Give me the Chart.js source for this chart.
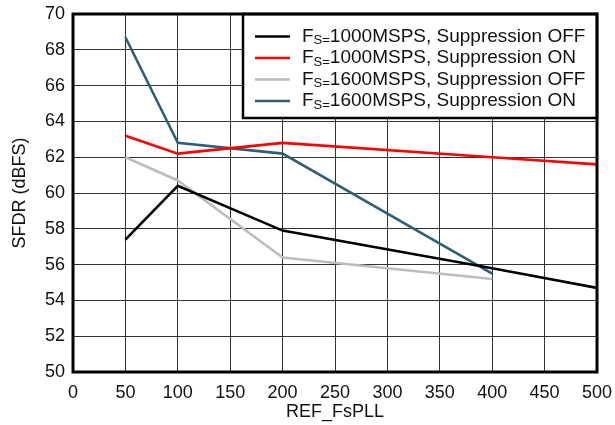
<!DOCTYPE html>
<html>
<head>
<meta charset="utf-8">
<script src="https://cdn.jsdelivr.net/npm/chart.js@4/dist/chart.umd.min.js"></script>
<style>
  html, body { margin: 0; padding: 0; background: #fff; }
  #wrap { position: relative; width: 615px; height: 425px; }
</style>
</head>
<body>
<div id="wrap"><canvas id="chart" width="615" height="425"></canvas></div>
<script>
(function() {

  // x positions (REF_FsPLL) and SFDR values
  var refPll = [50, 100, 200, 400, 500];
  var refPll1600 = [50, 100, 200, 400];

  var off1000 = [57.4, 60.4, 57.9, 55.8, 54.7];
  var on1000 = [63.2, 62.2, 62.8, 62.0, 61.6];
  var off1600 = [62.0, 60.7, 56.4, 55.2];
  var on1600 = [68.7, 62.8, 62.2, 55.5];

  var seriesNames = ['1000MSPS, Suppression OFF', '1000MSPS, Suppression ON',
                     '1600MSPS, Suppression OFF', '1600MSPS, Suppression ON'];
  var seriesColours = ['#000000', '#ff0000', '#bdbdbd', '#2f5f78'];

  var xTicks = [0, 50, 100, 150, 200, 250, 300, 350, 400, 450, 500];
  var yTicks = [50, 52, 54, 56, 58, 60, 62, 64, 66, 68, 70];

  var fontFamily = '"Liberation Sans", Arial, Helvetica, sans-serif';

  function points(xs, ys) {
    return xs.map(function(x, i) { return {x: x, y: ys[i]}; });
  }

  var seriesData = [
    points(refPll, off1000),
    points(refPll, on1000),
    points(refPll1600, off1600),
    points(refPll1600, on1600)
  ];

  // thick frame round the plot and the boxed legend in the top right corner
  var framePlugin = {
    id: 'frame',
    afterDatasetsDraw: function(chart) {
      var ctx = chart.ctx;
      var a = chart.chartArea;
      ctx.save();

      var boxLeft = 243, boxTop = a.top, boxRight = a.right, boxBottom = 118;
      ctx.fillStyle = '#fff';
      ctx.fillRect(boxLeft, boxTop, boxRight - boxLeft, boxBottom - boxTop);
      ctx.lineWidth = 2.5;
      ctx.strokeStyle = '#000';
      ctx.strokeRect(boxLeft, boxTop, boxRight - boxLeft, boxBottom - boxTop);

      var rowY = [36.5, 58, 79.5, 101];
      ctx.textBaseline = 'middle';
      seriesNames.forEach(function(name, i) {
        var y = rowY[i];
        ctx.strokeStyle = seriesColours[i];
        ctx.lineWidth = 2.5;
        ctx.beginPath();
        ctx.moveTo(255, y);
        ctx.lineTo(290, y);
        ctx.stroke();

        ctx.fillStyle = '#111';
        ctx.font = '19px ' + fontFamily;
        ctx.textAlign = 'left';
        var x = 302;
        ctx.fillText('F', x, y);
        x += ctx.measureText('F').width;
        ctx.font = '13px ' + fontFamily;
        ctx.fillText('S=', x, y + 4);
        x += ctx.measureText('S=').width;
        ctx.font = '19px ' + fontFamily;
        ctx.fillText(name, x, y);
      });

      ctx.lineWidth = 3;
      ctx.strokeStyle = '#000';
      ctx.strokeRect(a.left, a.top, a.right - a.left, a.bottom - a.top);
      ctx.restore();
    }
  };

  var datasets = seriesNames.map(function(name, i) {
    return {
      label: 'FS=' + name,
      data: seriesData[i],
      borderColor: seriesColours[i],
      backgroundColor: seriesColours[i],
      borderWidth: 2.6,
      pointRadius: 0,
      tension: 0
    };
  });

  new Chart(document.getElementById('chart'), {
    type: 'line',
    data: {datasets: datasets},
    options: {
      responsive: false,
      animation: false,
      layout: {padding: {top: 14, right: 18, left: 0, bottom: 0}},
      plugins: {
        legend: {display: false},
        tooltip: {enabled: false}
      },
      scales: {
        x: {
          type: 'linear',
          min: 0,
          max: 500,
          afterBuildTicks: function(scale) {
            scale.ticks = xTicks.map(function(v) { return {value: v}; });
          },
          afterFit: function(scale) {
            scale.height = 53;
            scale.paddingLeft = 0;
            scale.paddingRight = 0;
          },
          grid: {color: '#333', lineWidth: 1, drawTicks: false},
          border: {display: false},
          ticks: {color: '#111', font: {family: fontFamily, size: 18}, padding: 10, maxRotation: 0},
          title: {display: true, text: 'REF_FsPLL', color: '#111',
                  font: {family: fontFamily, size: 18}, padding: {top: 0, bottom: 2}}
        },
        y: {
          min: 50,
          max: 70,
          afterBuildTicks: function(scale) {
            scale.ticks = yTicks.map(function(v) { return {value: v}; });
          },
          afterFit: function(scale) {
            scale.width = 73;
            scale.paddingTop = 0;
            scale.paddingBottom = 0;
          },
          grid: {color: '#333', lineWidth: 1, drawTicks: false},
          border: {display: false},
          ticks: {color: '#111', font: {family: fontFamily, size: 18}, padding: 8},
          title: {display: true, text: 'SFDR (dBFS)', color: '#111',
                  font: {family: fontFamily, size: 18}, padding: {top: 9, bottom: 4}}
        }
      }
    },
    plugins: [framePlugin]
  });

}());
</script>
</body>
</html>
